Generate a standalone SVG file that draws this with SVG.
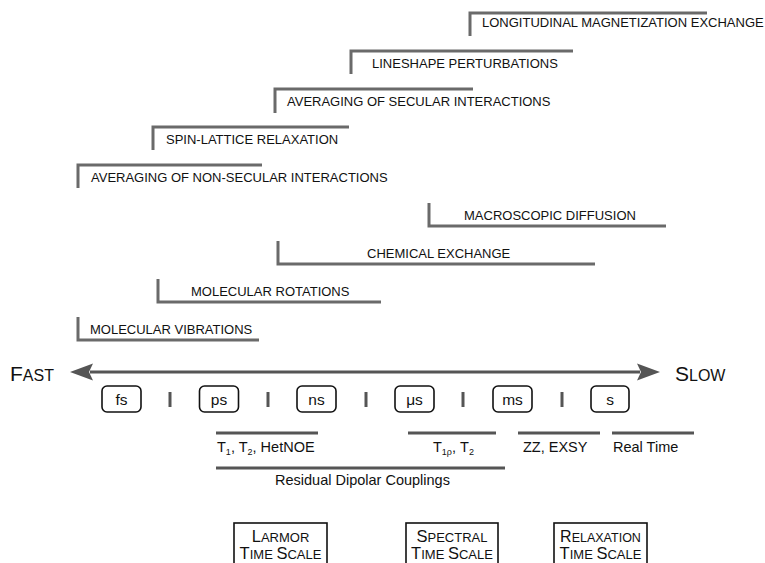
<svg xmlns="http://www.w3.org/2000/svg" width="765" height="563" viewBox="0 0 765 563">
<style>
  .br { fill: none; stroke: #6a6a6a; stroke-width: 3; }
  .lbl { font-family: "Liberation Sans", Arial, sans-serif; font-size: 13px; fill: #111; }
  .txt { font-family: "Liberation Sans", Arial, sans-serif; font-size: 14.5px; fill: #111; }
  .unit { fill: #fff; stroke: #111; stroke-width: 1.6; }
  .ut { font-family: "Liberation Sans", Arial, sans-serif; font-size: 15.5px; fill: #111; text-anchor: middle; }
  .tick { stroke: #555; stroke-width: 3; }
  .bar { stroke: #555; stroke-width: 3; }
  .sc { font-family: "Liberation Sans", Arial, sans-serif; fill: #111; }
  .box { fill: #fff; stroke: #111; stroke-width: 1.6; }
</style>
<rect width="765" height="563" fill="#fff"/>

<g id="connectors">
  <line x1="90" y1="372" x2="640" y2="372" stroke="#555" stroke-width="3"/>
  <polygon points="70,372 93,363.5 89,372 93,380.5" fill="#555"/>
  <polygon points="660,372 637,363.5 641,372 637,380.5" fill="#555"/>
  <line class="tick" x1="170" y1="392" x2="170" y2="407"/>
  <line class="tick" x1="268" y1="392" x2="268" y2="407"/>
  <line class="tick" x1="366" y1="392" x2="366" y2="407"/>
  <line class="tick" x1="463" y1="392" x2="463" y2="407"/>
  <line class="tick" x1="562" y1="392" x2="562" y2="407"/>
</g>

<g id="longitudinal">
  <path class="br" d="M470,36 V13 H707"/>
  <text class="lbl" x="482" y="27">LONGITUDINAL MAGNETIZATION EXCHANGE</text>
</g>
<g id="lineshape">
  <path class="br" d="M351,74 V51 H573"/>
  <text class="lbl" x="372" y="68">LINESHAPE PERTURBATIONS</text>
</g>
<g id="secular">
  <path class="br" d="M275,113 V89 H473"/>
  <text class="lbl" x="287" y="106">AVERAGING OF SECULAR INTERACTIONS</text>
</g>
<g id="spinlattice">
  <path class="br" d="M153,150 V127 H349"/>
  <text class="lbl" x="166" y="144">SPIN-LATTICE RELAXATION</text>
</g>
<g id="nonsecular">
  <path class="br" d="M78,188 V165 H262"/>
  <text class="lbl" x="91" y="182">AVERAGING OF NON-SECULAR INTERACTIONS</text>
</g>
<g id="diffusion">
  <path class="br" d="M429,203 V226 H666"/>
  <text class="lbl" x="464" y="220">MACROSCOPIC DIFFUSION</text>
</g>
<g id="chemical">
  <path class="br" d="M278,241 V264 H595"/>
  <text class="lbl" x="367" y="258">CHEMICAL EXCHANGE</text>
</g>
<g id="rotations">
  <path class="br" d="M158,279 V302 H381"/>
  <text class="lbl" x="191" y="296">MOLECULAR ROTATIONS</text>
</g>
<g id="vibrations">
  <path class="br" d="M78,317 V340 H259"/>
  <text class="lbl" x="90" y="334">MOLECULAR VIBRATIONS</text>
</g>

<g id="fast">
  <text class="sc" x="10" y="381"><tspan font-size="21">F</tspan><tspan font-size="16">AST</tspan></text>
</g>
<g id="slow">
  <text class="sc" x="675" y="381"><tspan font-size="21">S</tspan><tspan font-size="16">LOW</tspan></text>
</g>

<g id="fs"><rect class="unit" x="102" y="386" width="39" height="26" rx="5"/><text class="ut" x="121.5" y="404.5">fs</text></g>
<g id="ps"><rect class="unit" x="199.5" y="386" width="39" height="26" rx="5"/><text class="ut" x="219" y="404.5">ps</text></g>
<g id="ns"><rect class="unit" x="297" y="386" width="39" height="26" rx="5"/><text class="ut" x="316.5" y="404.5">ns</text></g>
<g id="us"><rect class="unit" x="395" y="386" width="39" height="26" rx="5"/><text class="ut" x="414.5" y="404.5">μs</text></g>
<g id="ms"><rect class="unit" x="493" y="386" width="39" height="26" rx="5"/><text class="ut" x="512.5" y="404.5">ms</text></g>
<g id="s"><rect class="unit" x="591" y="386" width="38" height="26" rx="5"/><text class="ut" x="610" y="404.5">s</text></g>

<g id="t1t2">
  <line class="bar" x1="216" y1="433" x2="318" y2="433"/>
  <text class="txt" x="217" y="452">T<tspan font-size="9" dy="3">1</tspan><tspan dy="-3">, T</tspan><tspan font-size="9" dy="3">2</tspan><tspan dy="-3">, HetNOE</tspan></text>
</g>
<g id="t1rho">
  <line class="bar" x1="408" y1="433" x2="496" y2="433"/>
  <text class="txt" x="433" y="452">T<tspan font-size="9" dy="3">1ρ</tspan><tspan dy="-3">, T</tspan><tspan font-size="9" dy="3">2</tspan></text>
</g>
<g id="zz">
  <line class="bar" x1="518" y1="433" x2="600" y2="433"/>
  <text class="txt" x="523" y="452">ZZ, EXSY</text>
</g>
<g id="realtime">
  <line class="bar" x1="612" y1="433" x2="694" y2="433"/>
  <text class="txt" x="613" y="452">Real Time</text>
</g>
<g id="rdc">
  <line class="bar" x1="216" y1="468" x2="505" y2="468"/>
  <text class="txt" x="275" y="485">Residual Dipolar Couplings</text>
</g>

<g id="larmor">
  <rect class="box" x="234" y="523" width="93" height="50"/>
  <text class="sc" x="280.5" y="542" text-anchor="middle"><tspan font-size="16.5">L</tspan><tspan font-size="13">ARMOR</tspan></text>
  <text class="sc" x="280.5" y="559" text-anchor="middle"><tspan font-size="16.5">T</tspan><tspan font-size="13">IME </tspan><tspan font-size="16.5">S</tspan><tspan font-size="13">CALE</tspan></text>
</g>
<g id="spectral">
  <rect class="box" x="406" y="523" width="92" height="50"/>
  <text class="sc" x="452" y="542" text-anchor="middle"><tspan font-size="16.5">S</tspan><tspan font-size="13">PECTRAL</tspan></text>
  <text class="sc" x="452" y="559" text-anchor="middle"><tspan font-size="16.5">T</tspan><tspan font-size="13">IME </tspan><tspan font-size="16.5">S</tspan><tspan font-size="13">CALE</tspan></text>
</g>
<g id="relaxation">
  <rect class="box" x="554" y="523" width="93" height="50"/>
  <text class="sc" x="600.5" y="542" text-anchor="middle"><tspan font-size="16">R</tspan><tspan font-size="12.5">ELAXATION</tspan></text>
  <text class="sc" x="600.5" y="559" text-anchor="middle"><tspan font-size="16.5">T</tspan><tspan font-size="13">IME </tspan><tspan font-size="16.5">S</tspan><tspan font-size="13">CALE</tspan></text>
</g>
</svg>
